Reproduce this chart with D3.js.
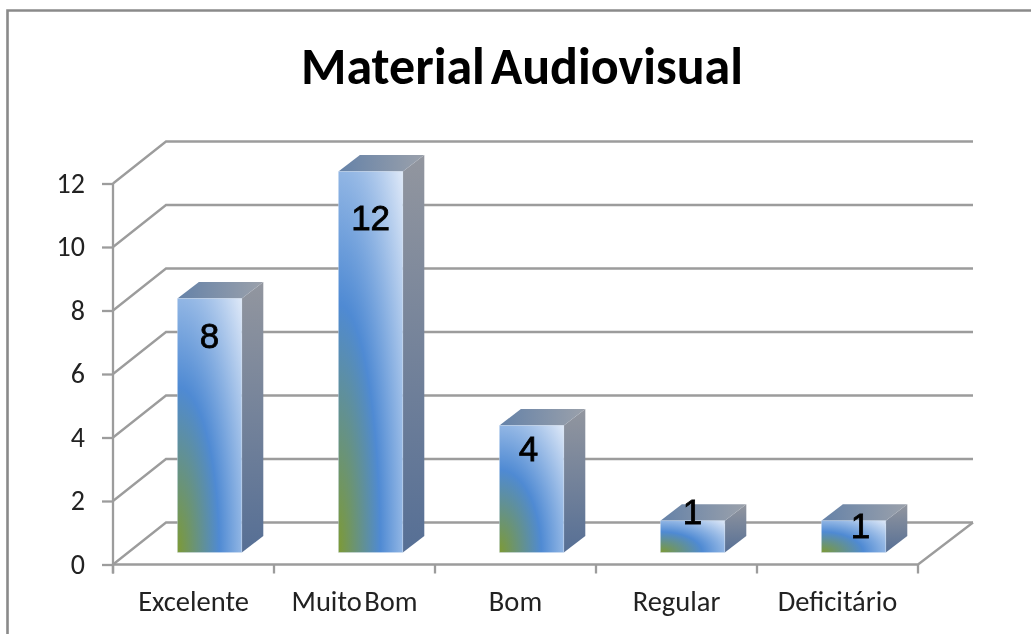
<!DOCTYPE html>
<html><head><meta charset="utf-8">
<script src="https://cdn.jsdelivr.net/npm/d3@7"></script>
<style>html,body{margin:0;padding:0;background:#fff;overflow:hidden}svg{display:block;filter:blur(0.6px)}</style>
</head><body>
<svg id="c" width="1031" height="634"></svg>
<script>
const categories = ["Excelente","Muito Bom","Bom","Regular","Deficitário"];
const values = [8,12,4,1,1];
const tickValues = [0,2,4,6,8,10,12];
const titleText = "Material Audiovisual";

const svg = d3.select("#c");
const font = "Carlito, Calibri, 'Open Sans', 'Noto Sans', sans-serif";
const W = {x0:113, x1:918, y0:564.5, y1:183.5};
const depth = {dx:53, dy:-42};
const gridRight = 973;
const barDepth = {dx:21.5, dy:-16.5};
const barOff = {dy:-12};

const xStep = d3.scaleBand().domain(categories).range([W.x0,W.x1]);
const barX = c => xStep(c) + xStep.bandwidth()*0.4;
const barW = xStep.bandwidth()*0.4;
const y = d3.scaleLinear().domain([0,12]).range([W.y0,W.y1]);

const defs = svg.append("defs");
function grad(id,x1,y1,x2,y2,stops){
  const g = defs.append("linearGradient").attr("id",id).attr("x1",x1).attr("y1",y1).attr("x2",x2).attr("y2",y2);
  stops.forEach(s=>g.append("stop").attr("offset",s[0]).attr("stop-color",s[1]));
}
const rg = defs.append("radialGradient").attr("id","front").attr("cx",0).attr("cy",1).attr("r",1.414).attr("fx",0).attr("fy",1);
[[0,"#7d9a35"],[0.46,"#4f8ad3"],[1,"#dfe9f8"]].forEach(s=>rg.append("stop").attr("offset",s[0]).attr("stop-color",s[1]));
grad("side",0,1,0,0,[[0,"#566f95"],[1,"#92969f"]]);
grad("top",0,0.5,1,0.5,[[0,"#6582a8"],[1,"#9ba1ab"]]);

// outer frame
svg.append("path").attr("d","M7.5,634V10.5H1031").attr("fill","none").attr("stroke","#8a8a8a").attr("stroke-width",2.6);

// grid
const gridCol="#9c9c9c";
const grid = svg.append("g").attr("fill","none").attr("stroke",gridCol).attr("stroke-width",2.3);
tickValues.forEach(t=>{
  const yy=y(t);
  grid.append("path").attr("d",`M${W.x0},${yy}L${W.x0+depth.dx},${yy+depth.dy}H${gridRight}`);
});
grid.append("path").attr("d",`M${W.x0},${W.y0}H${W.x1}L${gridRight},${W.y0+depth.dy}`);

// axes via d3 axis
const yAxis = d3.axisLeft(y).tickValues(tickValues).tickSize(11).tickPadding(17).tickFormat(d3.format("d"));
const gy = svg.append("g").attr("transform",`translate(${W.x0},0)`).call(yAxis);
gy.selectAll("line,path").attr("stroke",gridCol).attr("stroke-width",2.3);
gy.select("path").attr("d",`M0,${W.y1}V${W.y0+9}`);
gy.selectAll("text").attr("font-family",font).attr("font-size",28).attr("fill","#222");

const bottomTicks = categories.map(c=>xStep(c)).concat([W.x1]);
bottomTicks.forEach(v=>svg.append("line").attr("x1",v).attr("x2",v).attr("y1",W.y0).attr("y2",W.y0+9).attr("stroke",gridCol).attr("stroke-width",2.3));
svg.append("g").selectAll("text").data(categories).join("text")
  .attr("x",c=>xStep(c)+xStep.bandwidth()/2)
  .attr("y",611)
  .attr("text-anchor","middle")
  .attr("font-family",font).attr("font-size",28.5).attr("word-spacing",-4).attr("fill","#222")
  .text(d=>d);

// bars
const bars = svg.append("g").selectAll("g").data(categories.map((c,i)=>({c,v:values[i]}))).join("g");
bars.each(function(d){
  const g=d3.select(this);
  const l=barX(d.c), r=l+barW;
  const b=y(0)+barOff.dy, t=y(d.v)+barOff.dy;
  const {dx,dy}=barDepth;
  g.append("path").attr("d",`M${r},${b}V${t}l${dx},${dy}V${b+dy}Z`).attr("fill","url(#side)");
  g.append("path").attr("d",`M${l},${t}H${r}l${dx},${dy}H${l+dx}Z`).attr("fill","url(#top)");
  g.append("rect").attr("x",l).attr("y",t).attr("width",r-l).attr("height",b-t).attr("fill","url(#front)")
    .attr("stroke","#d5e3f5").attr("stroke-opacity",0.5).attr("stroke-width",0.7);
});

// value labels
const labelDy = [49,58,35,3,17];
const labelDx = [0,0,-3,0,7];
bars.append("text")
  .attr("x",(d,i)=>barX(d.c)+barW/2+labelDx[i])
  .attr("y",d=>y(d.v)+barOff.dy)
  .attr("dy",(d,i)=>labelDy[i])
  .attr("text-anchor","middle")
  .attr("font-family","'Liberation Sans',Arial,sans-serif")
  .attr("font-size",35).attr("fill","#000").attr("stroke","#000").attr("stroke-width",0.8)
  .text(d=>d.v);

// title
svg.append("text").attr("x",522).attr("y",84).attr("text-anchor","middle")
  .attr("font-family",font).attr("font-weight",700).attr("font-size",52).attr("word-spacing",-6).attr("fill","#000").text(titleText);
</script>
</body></html>
